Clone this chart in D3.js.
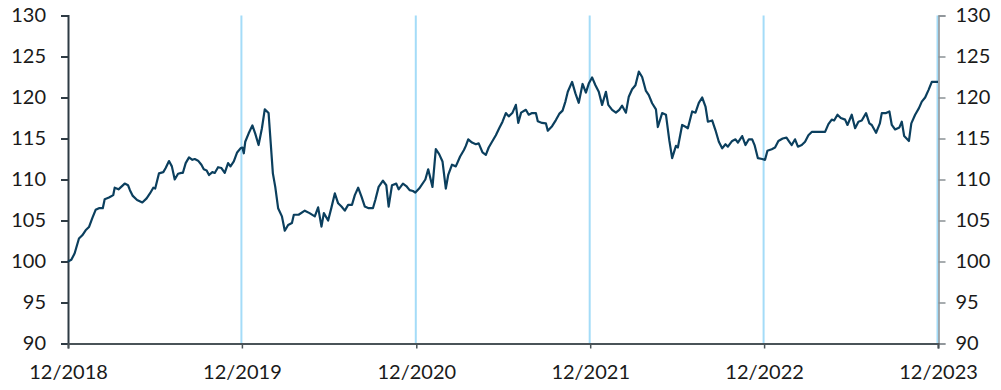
<!DOCTYPE html>
<html>
<head>
<meta charset="utf-8">
<script src="https://cdn.jsdelivr.net/npm/d3@7"></script>
<style>
  html, body { margin: 0; padding: 0; background: #fff; }
  svg text { font-family: Lato, "Open Sans", sans-serif; fill: #1a1a1a; }
</style>
</head>
<body>
<svg id="chart" width="1001" height="390"></svg>
<script>
// Index level over five years (start = 100), observations given as days after 1 Dec 2018
const days = [0,7,14,23,30,37,44,51,58,65,73,77,86,95,98,106,119,126,130,136,145,156,165,172,179,183,191,200,205,212,218,224,231,238,241,247,254,261,266,273,280,285,291,296,303,308,315,322,329,336,341,348,355,362,366,369,372,379,387,393,400,407,413,421,430,435,441,449,455,462,470,474,484,497,507,518,525,532,537,546,553,560,567,574,581,588,596,602,609,616,623,631,640,645,652,661,668,673,680,689,694,703,710,717,724,729,737,750,756,765,772,779,786,793,798,806,814,823,831,835,840,848,856,862,870,877,883,890,898,905,912,919,925,933,940,945,951,961,967,974,982,986,995,1003,1007,1016,1024,1031,1038,1044,1049,1058,1065,1072,1080,1087,1093,1100,1107,1114,1121,1129,1134,1142,1150,1157,1163,1171,1177,1184,1191,1198,1205,1213,1219,1226,1234,1238,1247,1255,1262,1268,1276,1280,1289,1297,1301,1310,1317,1324,1331,1338,1343,1352,1359,1366,1373,1380,1385,1394,1401,1406,1415,1422,1429,1436,1441,1448,1457,1463,1468,1477,1484,1491,1500,1508,1514,1519,1526,1532,1540,1547,1554,1561,1589,1596,1603,1608,1615,1622,1631,1636,1645,1652,1659,1666,1675,1682,1687,1696,1704,1708,1717,1724,1729,1736,1745,1750,1755,1765,1770,1778,1786,1792,1799,1806,1813,1826];
const values = [100.0,100.2,101.0,102.8,103.2,103.8,104.2,105.3,106.3,106.5,106.5,107.6,107.8,108.1,109.0,108.8,109.5,109.3,108.7,108.0,107.5,107.2,107.7,108.3,109.0,108.9,110.75,110.9,111.4,112.25,111.6,110.0,110.7,110.8,110.8,112.0,112.7,112.4,112.5,112.3,111.8,111.25,111.1,110.55,110.9,110.8,111.5,111.4,110.8,112.0,111.6,112.2,113.3,113.8,113.9,113.2,114.6,115.6,116.6,115.6,114.2,116.25,118.55,118.1,110.75,109.1,106.5,105.5,103.75,104.45,104.7,105.7,105.7,106.2,105.9,105.5,106.6,104.25,105.9,105.0,106.6,108.3,107.1,106.7,106.2,106.9,106.9,108.1,109.0,107.9,106.7,106.5,106.5,107.5,109.1,109.85,109.3,106.7,109.3,109.5,108.8,109.5,109.2,108.7,108.6,108.4,108.9,110.0,111.25,109.1,113.7,113.1,112.2,108.9,110.55,111.8,111.6,112.8,113.6,114.1,114.9,114.5,114.3,114.4,113.3,113.0,113.9,114.6,115.4,116.25,117.05,118.1,117.7,118.15,119.1,116.9,118.15,118.5,117.9,118.1,118.1,117.1,116.9,116.85,115.95,116.5,117.25,118.0,118.4,119.5,120.7,121.9,120.5,119.35,121.65,120.6,121.7,122.45,121.5,120.7,119.1,120.7,119.1,118.5,118.15,118.5,119.0,118.15,120.1,121.0,121.5,123.15,122.5,120.8,120.3,119.3,118.55,116.4,118.1,117.9,114.8,112.6,114.1,113.9,116.65,116.4,116.25,118.3,118.15,119.35,120.0,118.9,117.05,117.2,116.0,114.6,113.8,114.3,114.0,114.7,114.9,114.5,115.3,114.2,114.9,114.9,114.2,112.6,112.5,112.4,113.5,113.7,113.9,114.7,115.0,115.1,114.6,114.2,114.9,114.0,114.2,114.6,115.4,115.8,115.8,116.75,117.3,117.2,117.9,117.5,117.3,116.65,117.9,116.25,117.05,117.2,118.1,116.85,116.65,115.7,116.85,118.1,118.1,118.3,116.65,116.1,116.35,117.05,115.3,114.7,116.85,117.9,118.7,119.5,120.0,120.9,121.9,121.9];

const yTicks = [90, 95, 100, 105, 110, 115, 120, 125, 130];
const yearMarks = ["2018-12-01", "2019-12-01", "2020-12-01", "2021-12-01", "2022-12-01", "2023-12-01"];

const parse = d3.utcParse("%Y-%m-%d");
const start = parse(yearMarks[0]);
const marks = yearMarks.map(parse);
const series = days.map((d, i) => ({ date: d3.utcDay.offset(start, d), value: values[i] }));

const svg = d3.select("#chart");
const plotLeft = 68, plotRight = 938, plotTop = 15.5, plotBottom = 343.5;

const x = d3.scaleUtc().domain([marks[0], marks[marks.length - 1]]).range([plotLeft, plotRight]);
const y = d3.scaleLinear().domain([90, 130]).range([plotBottom, plotTop]);

// Year separators
svg.append("g").selectAll("line")
  .data(marks.slice(1))
  .join("line")
  .attr("x1", d => x(d) - 0.5).attr("x2", d => x(d) - 0.5)
  .attr("y1", plotTop).attr("y2", plotBottom)
  .attr("stroke", "#a4dcf8").attr("stroke-width", 2);

// Right axis
const yRight = svg.append("g")
  .attr("transform", `translate(${plotRight + 0.5},0)`)
  .call(d3.axisRight(y).tickValues(yTicks).tickSize(7).tickPadding(10));
yRight.select(".domain").attr("stroke", "#8a9094").attr("stroke-width", 1.5);
yRight.selectAll(".tick line").attr("stroke", "#8a9094").attr("stroke-width", 1.5);
yRight.selectAll("text").style("font-size", "20px").attr("fill", "#1a1a1a");

// Left axis
const yLeft = svg.append("g")
  .attr("transform", `translate(${plotLeft},0)`)
  .call(d3.axisLeft(y).tickValues(yTicks).tickSize(7).tickPadding(15));
yLeft.select(".domain").attr("stroke", "#2e3b44").attr("stroke-width", 2);
yLeft.selectAll(".tick line").attr("stroke", "#2e3b44").attr("stroke-width", 2);
yLeft.selectAll("text").style("font-size", "20px").attr("fill", "#1a1a1a");

// Bottom axis
const xAxis = svg.append("g")
  .attr("transform", `translate(0,${plotBottom})`)
  .call(d3.axisBottom(x).tickValues(marks).tickFormat(d3.utcFormat("%m/%Y")).tickSize(5).tickPadding(16));
xAxis.select(".domain").attr("stroke", "#4a5358").attr("stroke-width", 2);
xAxis.selectAll(".tick line").attr("stroke", "#4a5358").attr("stroke-width", 1.5);
xAxis.selectAll("text").style("font-size", "20px").attr("fill", "#1a1a1a");

// Series line
svg.append("path")
  .datum(series)
  .attr("fill", "none")
  .attr("stroke", "#0b3f5e")
  .attr("stroke-width", 2.2)
  .attr("stroke-linejoin", "round")
  .attr("d", d3.line().x(d => x(d.date)).y(d => y(d.value)));
</script>
</body>
</html>
